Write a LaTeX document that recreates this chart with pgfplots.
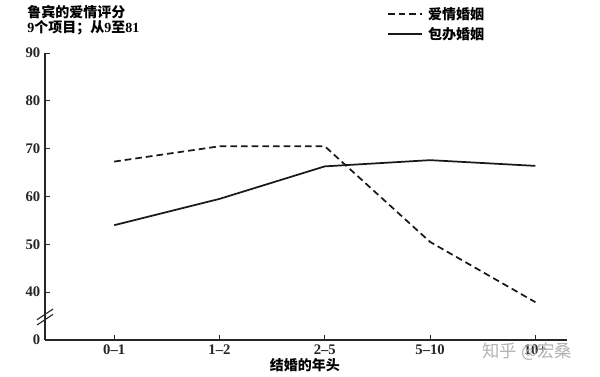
\documentclass[border=0pt]{standalone}
\usepackage{pgfplots}
\pgfplotsset{compat=1.18}
\usepackage{fontspec}
\setmainfont{Liberation Serif}
\newfontfamily\cjk{Noto Sans CJK SC}
\begin{document}
\begin{tikzpicture}
\useasboundingbox (-33.75pt,-27pt) rectangle (416.25pt,255pt);
\begin{axis}[
 at={(0pt,0pt)}, anchor=south west,
 scale only axis, width=391.5pt, height=215.25pt,
 xmin=-0.657, xmax=4.30, ymin=30, ymax=90,
 axis x line*=bottom, axis y line*=left,
 axis line style={line width=0.9pt, -, black!85},
 xtick={0,...,4}, xticklabels={0–1,1–2,2–5,5–10,10+},
 ytick={30,40,...,90}, yticklabels={0,40,50,60,70,80,90},
 tick align=inside, major tick length=4pt,
 tick style={line width=0.7pt, black!85},
 ticklabel style={font=\bfseries\fontsize{11}{12}\selectfont, text=black!85},
 /pgf/number format/assume math mode=true,
 xlabel={\cjk\bfseries 结婚的年头},
 x label style={at={(axis description cs:0.498,0)}, anchor=center, yshift=-19pt, font=\fontsize{10.5}{12}\selectfont},
 legend style={draw=none, fill=none, at={(axis description cs:0.655,1.17)}, anchor=north west,
   font=\cjk\bfseries\fontsize{10.5}{12}\selectfont, row sep=0.5pt, inner sep=0pt, nodes={inner sep=2pt}},
 legend cell align=left,
 legend image code/.code={\draw[#1] (0pt,0pt) -- (25.5pt,0pt);},
 clip=false,
]
\addplot[line width=1.3pt, black!90, dash pattern=on 5pt off 3pt] coordinates {(0,67.3) (1,70.5) (2,70.5) (3,50.5) (4,37.9)};
\addlegendentry{\hspace{2pt}爱情婚姻}
\addplot[line width=1.3pt, black!90] coordinates {(0,54.0) (1,59.5) (2,66.3) (3,67.6) (4,66.4)};
\addlegendentry{\hspace{2pt}包办婚姻}
\draw[line width=0.8pt, black!85] ([xshift=-6pt,yshift=-6pt]rel axis cs:0,0.08) -- ++(12pt,8pt);
\draw[line width=0.8pt, black!85] ([xshift=-6pt,yshift=-2pt]rel axis cs:0,0.08) -- ++(12pt,8pt);
\end{axis}
\node[anchor=west, inner sep=0pt, font=\cjk\bfseries\fontsize{10.5}{12}\selectfont] at (-13.5pt,246pt) {鲁宾的爱情评分};
\node[anchor=west, inner sep=0pt, font=\fontsize{10.5}{12}\selectfont] at (-13.5pt,234pt) {\bfseries 9{\cjk 个项目；从}9{\cjk 至}81};
\node[anchor=west, inner sep=0pt, text=black!30, font=\cjk\fontsize{13}{14}\selectfont] at (328pt,-9pt) {知乎 @宏桑};
\end{tikzpicture}
\end{document}
